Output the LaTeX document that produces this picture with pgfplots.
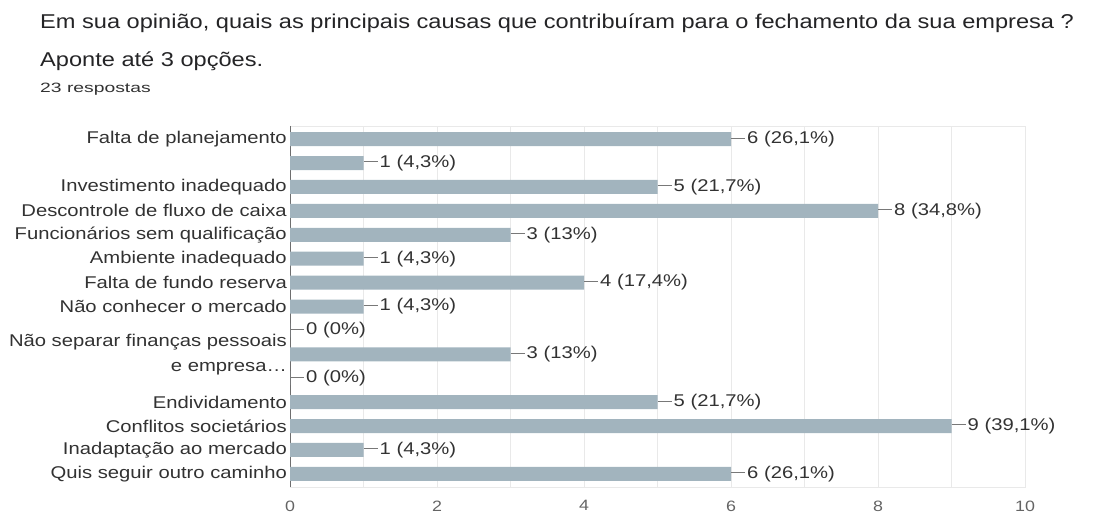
\documentclass[border=0pt]{standalone}
\usepackage{fontspec}
\setmainfont{Liberation Sans}[FakeStretch=1.19]
\newfontfamily\titlefont{Liberation Sans}[FakeStretch=1.18]
\newfontfamily\notefont{Liberation Sans}[FakeStretch=1.43]
\usepackage{pgfplots}
\pgfplotsset{compat=1.18}
\usepackage{pgfplotstable}

\definecolor{barfill}{RGB}{162,180,190}
\definecolor{titletext}{RGB}{36,36,38}
\definecolor{labeltext}{RGB}{50,50,50}
\definecolor{ticktext}{RGB}{100,100,100}
\definecolor{gridline}{RGB}{233,233,233}
\definecolor{axisline}{RGB}{110,110,110}
\definecolor{leaderline}{RGB}{120,120,120}

% one row per answer option, top to bottom
\pgfplotstableread{
row count
0 6
1 1
2 5
3 8
4 3
5 1
6 4
7 1
8 0
9 3
10 0
11 5
12 9
13 1
14 6
}\causas

% share of the 23 answers, printed with a decimal comma
\newcommand\sharelabel{{\pgfkeys{/pgf/fpu=true,/pgf/fpu/output format=fixed}%
  \pgfmathparse{\pgfplotspointmeta*100/23}%
  \pgfmathprintnumber[fixed,precision=1,use comma]{\pgfmathresult}}}

\begin{document}
\begin{tikzpicture}
\useasboundingbox (0pt,0pt) rectangle (1105pt,513pt);

\node[anchor=base west, inner sep=0pt, text=titletext,
      font=\titlefont\fontsize{20}{24}\selectfont] at (40pt,484pt)
  {Em sua opinião, quais as principais causas que contribuíram para o fechamento da sua empresa ?};
\node[anchor=base west, inner sep=0pt, text=titletext,
      font=\titlefont\fontsize{20}{24}\selectfont] at (40pt,446pt)
  {Aponte até 3 opções.};
\node[anchor=base west, inner sep=0pt, text=labeltext,
      font=\notefont\fontsize{13.5}{16}\selectfont] at (40pt,420pt)
  {23 respostas};

\begin{axis}[
  at={(290pt,26pt)}, anchor=south west,
  scale only axis, width=735pt, height=361pt,
  xbar, bar width=14pt,
  xmin=0, xmax=10, ymin=-0.55, ymax=14.55, y dir=reverse,
  xtick={0,2,...,10}, minor xtick={1,3,...,9},
  xmajorgrids, xminorgrids,
  major grid style={gridline, line width=0.8pt},
  minor grid style={gridline, line width=0.8pt},
  extra x ticks={0}, extra x tick labels={},
  extra x tick style={major grid style={axisline, line width=1pt}},
  major tick length=0pt, minor tick length=0pt,
  axis line style={gridline, line width=0.8pt},
  ytick={0,...,14},
  yticklabels={
    Falta de planejamento,
    {},
    Investimento inadequado,
    Descontrole de fluxo de caixa,
    Funcionários sem qualificação,
    Ambiente inadequado,
    Falta de fundo reserva,
    Não conhecer o mercado,
    {},
    {Não separar finanças pessoais\\[7pt]e empresa…},
    {},
    Endividamento,
    Conflitos societários,
    Inadaptação ao mercado,
    Quis seguir outro caminho},
  yticklabel style={font=\fontsize{17}{18}\selectfont, text=labeltext,
                    align=right, inner sep=0pt, xshift=-3pt},
  xticklabel style={font=\fontsize{15}{17}\selectfont, text=ticktext, yshift=-10pt},
  /pgf/number format/assume math mode=true,
  point meta=x,
  nodes near coords={\textcolor{leaderline}{\rule[0.3em]{14pt}{0.9pt}}\hspace{2pt}\pgfmathprintnumber{\pgfplotspointmeta}
    (\sharelabel\%)},
  nodes near coords style={anchor=west, inner sep=0pt, text=labeltext,
                           font=\fontsize{17}{18}\selectfont},
  clip=false,
]
\addplot[fill=barfill, draw=none] table[x=count, y=row] {\causas};
\end{axis}
\end{tikzpicture}
\end{document}
